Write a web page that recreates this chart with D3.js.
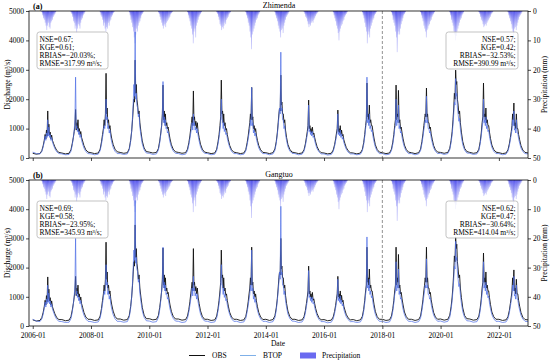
<!DOCTYPE html>
<html><head><meta charset="utf-8">
<script src="https://cdn.jsdelivr.net/npm/d3@7"></script>
<style>body{margin:0;background:#fff}svg{display:block}text{font-family:"Liberation Serif","Times New Roman",serif}</style>
</head><body>
<svg id="c" width="550" height="364"></svg>
<script>
// ---------- DATA ----------
const years = d3.range(2006, 2023);
const dayTpl = ["01-01","02-15","04-01","04-25","05-12","05-25","06-05","06-14","06-22","06-30","07-08","07-15","07-22","07-30","08-08","08-17","08-26","09-05","09-18","10-05","10-28","11-25"];
const dekadTpl = ["04-21","05-01","05-11","05-21","06-01","06-11","06-21","07-01","07-11","07-21","08-01","08-11","08-21","09-01","09-11","09-21","10-01","10-11"];
const xTicks = ["2006-01","2008-01","2010-01","2012-01","2014-01","2016-01","2018-01","2020-01","2022-01"];
const qTicks = [0,1000,2000,3000,4000,5000];
const pTicks = [0,10,20,30,40,50];
const splitDate = "2018-01-01";

const obsA = [
[160,130,150,250,420,600,800,650,950,750,1600,850,1150,780,880,650,780,600,500,380,260,190],
[170,140,160,280,500,700,900,1100,1650,950,1200,1000,1300,900,1000,800,900,700,580,420,280,200],
[180,150,170,300,550,800,1000,1300,1100,1500,2880,1500,1700,1200,1300,1000,1100,850,650,460,300,210],
[190,160,180,320,600,900,1300,1700,2000,1900,3330,2200,2500,2000,1800,1500,1600,1200,900,580,340,220],
[200,170,190,320,580,850,1100,1500,2480,1300,1600,1200,1500,1100,1200,1000,1050,850,650,450,300,210],
[190,160,180,300,520,750,1000,1200,1400,1100,2280,1300,1400,1100,1250,1000,1200,900,700,470,300,200],
[180,150,170,300,550,800,1100,1400,2650,1500,1600,1200,1500,1100,1200,950,1000,800,620,430,280,200],
[180,150,170,290,520,750,1000,1200,1500,1300,2400,1300,1400,1000,1100,900,1000,780,600,420,280,190],
[180,150,180,310,560,850,1200,1500,1700,1600,2820,1800,1900,1500,1500,1200,1300,950,700,460,300,200],
[180,150,170,280,480,700,900,1100,1970,1000,1100,900,1000,850,1050,800,850,700,550,390,260,180],
[170,140,160,270,450,650,850,1000,1630,900,1000,850,1100,800,950,750,800,620,500,360,250,180],
[170,140,170,290,520,800,1100,1300,2550,1400,1500,1300,1800,1200,1300,1100,1100,900,680,450,290,200],
[180,150,170,300,540,800,1100,1300,2480,1300,1500,1400,2300,1200,1300,1000,1050,850,650,440,290,200],
[180,150,180,300,560,820,1100,1300,1500,1400,2380,1400,1500,1200,1200,1000,1050,820,640,430,280,200],
[190,160,190,330,600,900,1300,1700,2200,2000,2990,2500,2600,2000,1800,1500,1600,1200,880,560,330,220],
[190,160,180,300,560,850,1200,1400,2550,1400,1500,1300,1700,1200,1300,1100,1100,880,660,440,290,200],
[180,150,170,280,480,700,900,1100,1500,1300,1870,1100,1200,1000,1500,1000,1000,800,620,420,270,190]];
const obsAEnd = 170;

const btopA = [
[200,150,140,220,380,550,750,600,850,700,1300,750,1050,700,800,600,700,540,440,320,210,150],
[140,110,120,230,450,700,950,1300,2750,1000,1100,900,1000,800,900,700,800,600,480,340,220,150],
[140,110,130,250,480,700,900,1100,1000,1300,2000,1300,1400,1000,1100,850,950,700,530,360,230,150],
[150,120,140,280,560,900,1400,1900,2500,2100,4290,2000,2200,1800,1700,1400,1500,1050,780,480,280,170],
[160,120,140,270,520,800,1100,1400,2600,1200,1400,1100,1300,1000,1050,850,900,720,540,370,240,160],
[150,110,130,240,450,650,850,1000,1200,950,1500,1100,1200,950,1050,850,1000,760,580,380,240,160],
[150,110,130,250,480,700,950,1200,2000,1300,1300,1000,1200,900,1000,800,850,680,520,360,230,150],
[150,110,130,240,450,650,850,1000,1300,1100,2400,1100,1200,850,950,750,850,650,500,340,220,150],
[150,110,140,260,500,800,1100,1400,1700,1500,3600,1600,1700,1300,1300,1000,1100,800,600,380,240,160],
[150,110,130,230,420,620,800,950,1800,900,950,800,900,750,900,700,750,600,460,320,210,140],
[140,100,120,220,400,580,750,880,1500,800,880,750,950,700,820,640,700,530,420,300,200,140],
[140,110,130,240,460,720,1000,1200,2750,1200,1300,1100,1500,1000,1100,900,950,740,560,370,230,150],
[150,110,130,250,470,720,1000,1100,2000,1100,1300,1200,1800,1000,1100,850,900,700,530,360,230,150],
[150,110,140,250,490,720,950,1100,1300,1200,2100,1200,1300,1000,1000,850,900,690,530,350,230,150],
[160,120,150,280,530,800,1150,1500,1900,1800,2700,2100,2200,1700,1500,1250,1350,1000,720,450,270,170],
[160,120,140,250,490,750,1050,1200,2000,1200,1300,1100,1400,1000,1100,900,950,730,550,360,230,150],
[150,110,130,230,420,620,800,950,1300,1100,1600,950,1000,850,1300,850,850,660,510,340,220,150]];
const btopAEnd = 140;

const obsB = [
[210,170,190,290,470,660,880,720,1040,830,1680,940,1260,860,970,720,860,660,550,420,290,220],
[220,180,200,320,550,770,990,1200,1700,1040,1300,1100,1400,990,1100,880,990,770,640,460,310,230],
[230,190,210,340,600,880,1100,1400,1200,1600,2870,1600,1850,1300,1400,1100,1200,930,720,510,330,240],
[240,200,220,360,660,990,1400,1850,2200,2050,3460,2350,2650,2150,1950,1600,1750,1300,990,640,370,250],
[250,210,230,360,640,930,1200,1600,2670,1400,1750,1300,1650,1200,1300,1100,1150,930,720,500,330,240],
[240,200,220,340,570,830,1100,1300,1500,1200,2650,1400,1500,1200,1350,1100,1300,990,770,520,330,230],
[230,190,210,340,600,880,1200,1500,2600,1650,1750,1300,1650,1200,1300,1050,1100,880,680,470,310,230],
[230,190,210,330,570,830,1100,1300,1650,1400,2700,1400,1500,1100,1200,990,1100,860,660,460,310,220],
[230,190,220,350,620,930,1300,1650,1850,1750,3000,1950,2050,1650,1650,1300,1400,1050,770,510,330,230],
[230,190,210,320,530,770,990,1200,2050,1100,1200,990,1100,930,1150,880,930,770,600,430,290,210],
[220,180,200,310,500,710,930,1100,1700,990,1100,930,1200,880,1050,820,880,680,550,400,280,210],
[220,180,210,330,570,880,1200,1400,2700,1500,1650,1400,1950,1300,1400,1200,1200,990,750,500,320,230],
[230,190,210,340,590,880,1200,1400,2700,1400,1650,1500,2450,1300,1400,1100,1150,930,720,480,320,230],
[230,190,220,340,620,900,1200,1400,1650,1500,2700,1500,1650,1300,1300,1100,1150,900,700,470,310,230],
[240,200,230,370,660,990,1400,1850,2400,2200,3050,2650,2800,2200,1950,1650,1750,1300,970,620,360,250],
[240,200,220,340,620,930,1300,1500,2500,1500,1650,1400,1850,1300,1400,1200,1200,970,730,480,320,230],
[230,190,210,320,530,770,990,1200,1650,1400,1920,1200,1300,1100,1600,1100,1100,880,680,460,300,220]];
const obsBEnd = 210;

const btopB = [
[230,170,150,240,410,600,820,650,920,760,1400,810,1130,760,860,650,760,580,480,350,230,160],
[150,120,130,250,490,760,1030,1400,3000,1080,1200,980,1080,870,980,760,870,650,520,370,240,160],
[150,120,140,270,520,760,980,1200,1080,1400,2100,1400,1500,1080,1200,920,1030,760,570,390,250,160],
[160,130,150,300,600,980,1500,2050,2600,2250,4300,2150,2350,1950,1850,1500,1600,1130,840,520,300,180],
[170,130,150,290,560,870,1200,1500,2700,1300,1500,1200,1400,1080,1130,920,980,780,580,400,260,170],
[160,120,140,260,490,700,920,1080,1300,1030,1700,1200,1300,1030,1130,920,1080,820,630,410,260,170],
[160,120,140,270,520,760,1030,1300,2100,1400,1400,1080,1300,980,1080,870,920,730,560,390,250,160],
[160,120,140,260,490,700,920,1080,1400,1200,2600,1200,1300,920,1030,810,920,700,540,370,240,160],
[160,120,150,280,540,870,1200,1500,1850,1600,4100,1750,1850,1400,1400,1080,1200,870,650,410,260,170],
[160,120,140,250,450,670,870,1030,1900,980,1030,870,980,810,980,760,810,650,500,350,230,150],
[150,110,130,240,430,630,810,950,1600,870,950,810,1030,760,890,690,760,570,450,320,220,150],
[150,120,140,260,500,780,1080,1300,3050,1300,1400,1200,1600,1080,1200,970,1030,800,600,400,250,160],
[160,120,140,270,510,780,1080,1200,2200,1200,1400,1300,1950,1080,1200,920,970,760,570,390,250,160],
[160,120,150,270,530,780,1030,1200,1400,1300,2300,1300,1400,1080,1080,920,970,750,570,380,250,160],
[170,130,160,300,570,870,1250,1600,2050,1950,2900,2250,2350,1850,1600,1350,1450,1080,780,490,290,180],
[170,130,150,270,530,810,1130,1300,2200,1300,1400,1200,1500,1080,1200,970,1030,790,590,390,250,160],
[160,120,140,250,450,670,870,1030,1400,1200,1700,1030,1080,920,1400,920,920,710,550,370,240,160]];
const btopBEnd = 150;

const precip = [
[0.5,1.5,2.5,3,4,5,6.5,5,4,5.5,6,4,3.5,3,2,1.5,1,0.5],
[0.5,1,2,3.5,4,6,5,7.5,6,4.5,5,6,4,3,2.5,1.5,1,0.5],
[0.5,1.5,2,3,5,4,6,7,5.5,6,4,5,3.5,3,2,1.5,0.8,0.4],
[0.5,1.5,3,4,5.5,7,9,11,8,6,7,5,4,3.5,2.5,1.5,1,0.5],
[0.5,1,2,3,4,5,6,5,4.5,5.5,4,3.5,3,2.5,2,1.2,0.8,0.4],
[0.5,1.5,2.5,3.5,5,6,8,11,7,6,9,5,4,3,2,1.5,1,0.5],
[0.5,1,2,3,4.5,5,6.5,5.5,6,5,4,4.5,3,2.5,2,1.2,0.8,0.4],
[0.5,1.5,2.5,4,5,7,9,13,8,7,6,5,4,3,2.5,1.5,1,0.5],
[0.5,1.5,2.5,3.5,5,6,7,9,6.5,6,7.5,5,4,3,2,1.5,1,0.5],
[0.4,1,2,2.5,3.5,4.5,5.5,4.5,5,4,3.5,4,3,2.5,1.8,1.2,0.8,0.4],
[0.5,1.5,2.5,3.5,5,6,7.5,10,7,6,5,4.5,3.5,3,2,1.5,1,0.5],
[0.5,1.5,2.5,4,5.5,7,11,8,7,9,6,5,4,3,2.5,1.5,1,0.5],
[0.5,1.5,3,4,5,7,9,14,8,7,8,6,4.5,3.5,2.5,1.5,1,0.5],
[0.5,1.5,2.5,3.5,5,6,7,9,6.5,6,5,4.5,3.5,3,2,1.5,1,0.5],
[0.5,1.5,3,4,5,7,8,10,8.5,7,6,5,4,3,2.5,1.5,1,0.5],
[0.4,1,2,3,3.5,4.5,5.5,5,4.5,5,4,3.5,3,2.5,2,1.2,0.8,0.4],
[0.5,1.5,2.5,3.5,4.5,6,7,9,6,5.5,6.5,5,4,3,2,1.5,1,0.5]];

const statsA = {left:["NSE=0.67;","KGE=0.61;","RBIAS=\u221220.03%;","RMSE=317.99 m\u00b3/s;"],
               right:["NSE=0.57;","KGE=0.42;","RBIAS=\u221232.53%;","RMSE=390.99 m\u00b3/s;"]};
const statsB = {left:["NSE=0.69;","KGE=0.58;","RBIAS=\u221223.95%;","RMSE=345.93 m\u00b3/s;"],
               right:["NSE=0.62;","KGE=0.47;","RBIAS=\u221230.64%;","RMSE=414.04 m\u00b3/s;"]};

// ---------- BUILD ----------
const parse = d3.utcParse("%Y-%m-%d");
const parseM = d3.utcParse("%Y-%m");
function series(arr, endVal){
  const out = [];
  years.forEach((y,i)=> dayTpl.forEach((t,j)=> out.push({d:parse(`${y}-${t}`), v:arr[i][j]})));
  out.push({d:parse("2023-01-01"), v:endVal});
  return out;
}
const pSeries = [];
years.forEach((y,i)=> dekadTpl.forEach((t,j)=> pSeries.push({d:parse(`${y}-${t}`), v:precip[i][j]})));

const svg = d3.select("#c");
const L = 29, R = 528;
const x = d3.scaleUtc().domain([parse("2005-11-15"), parse("2023-01-01")]).range([L, R]);
const COL_OBS = "#111", COL_BTOP = "#4f6fe6";

const defs = svg.append("defs");
const grad = defs.append("linearGradient").attr("id","pg").attr("x1",0).attr("x2",0).attr("y1",0).attr("y2",1);
grad.append("stop").attr("offset","0%").attr("stop-color","#2a2ae8").attr("stop-opacity",0.95);
grad.append("stop").attr("offset","100%").attr("stop-color","#8a8cf5").attr("stop-opacity",0.45);

function panel(top, bottom, obs, btop, stats, title, label, showX, id){
  const yq = d3.scaleLinear().domain([0,5000]).range([bottom, top]);
  const yp = d3.scaleLinear().domain([0,50]).range([top, bottom]);
  const g = svg.append("g");
  defs.append("clipPath").attr("id","cl"+id).append("rect")
    .attr("x",L).attr("y",top).attr("width",R-L).attr("height",bottom-top);
  const pg = g.append("g").attr("clip-path",`url(#cl${id})`);

  pg.selectAll("rect.p").data(pSeries).join("rect")
    .attr("x", d=>x(d.d))
    .attr("width", d=>Math.max(0.6, x(d3.utcDay.offset(d.d,10))-x(d.d)))
    .attr("y", yp(0))
    .attr("height", d=>yp(d.v)-yp(0))
    .attr("fill","url(#pg)");

  const line = d3.line().x(d=>x(d.d)).y(d=>yq(d.v));
  pg.append("path").datum(obs).attr("d",line).attr("fill","none").attr("stroke",COL_OBS).attr("stroke-width",0.9);
  pg.append("path").datum(btop).attr("d",line).attr("fill","none").attr("stroke",COL_BTOP).attr("stroke-width",0.8).attr("stroke-opacity",0.9);

  g.append("line").attr("x1",x(parse(splitDate))).attr("x2",x(parse(splitDate)))
    .attr("y1",top).attr("y2",bottom).attr("stroke","#777").attr("stroke-width",0.8).attr("stroke-dasharray","3,2");

  g.append("rect").attr("x",L).attr("y",top).attr("width",R-L).attr("height",bottom-top)
    .attr("fill","none").attr("stroke","#000").attr("stroke-width",0.8);

  const fs = "7.5px";
  const ax = g.append("g").attr("transform",`translate(0,${bottom})`)
    .call(d3.axisBottom(x).tickValues(xTicks.map(parseM)).tickSize(3).tickPadding(3.5)
      .tickFormat(showX ? d3.utcFormat("%Y-%m") : ()=>""));
  const al = g.append("g").attr("transform",`translate(${L},0)`)
    .call(d3.axisLeft(yq).tickValues(qTicks).tickSize(3).tickPadding(2).tickFormat(d3.format("d")));
  const ar = g.append("g").attr("transform",`translate(${R},0)`)
    .call(d3.axisRight(yp).tickValues(pTicks).tickSize(3).tickPadding(2));
  [ax,al,ar].forEach(a=>{
    a.select(".domain").remove();
    a.selectAll("line").attr("stroke","#000").attr("stroke-width",0.7);
    a.selectAll("text").attr("font-family","Liberation Serif").attr("font-size",fs).attr("fill","#000");
  });
  al.selectAll("text").attr("dy","0.3em");

  const mid = (top+bottom)/2;
  g.append("text").attr("transform",`translate(10,${mid}) rotate(-90)`).attr("text-anchor","middle")
    .attr("font-size","7.5px").text("Discharge (m\u00b3/s)");
  g.append("text").attr("transform",`translate(547,${mid}) rotate(-90)`).attr("text-anchor","middle")
    .attr("font-size","7.5px").text("Precipitation (mm)");
  g.append("text").attr("x",279).attr("y",top-3).attr("text-anchor","middle").attr("font-size","8px").text(title);
  g.append("text").attr("x",33).attr("y",top-2.5).attr("font-size","8px").attr("font-weight","bold").text(label);

  const lh = 8.3;
  const bl = g.append("g");
  bl.append("rect").attr("x",37).attr("y",top+21).attr("width",71).attr("height",37).attr("rx",2.5)
    .attr("fill","#fff").attr("fill-opacity",0.8).attr("stroke","#aaa").attr("stroke-width",0.7);
  stats.left.forEach((s,i)=> bl.append("text").attr("x",39.5).attr("y",top+30.5+i*lh).attr("font-size","7.5px").text(s));
  const br = g.append("g");
  br.append("rect").attr("x",446).attr("y",top+21).attr("width",72).attr("height",37).attr("rx",2.5)
    .attr("fill","#fff").attr("fill-opacity",0.8).attr("stroke","#aaa").attr("stroke-width",0.7);
  stats.right.forEach((s,i)=> br.append("text").attr("x",515.5).attr("y",top+30.5+i*lh).attr("text-anchor","end").attr("font-size","7.5px").text(s));
}

panel(11, 158, series(obsA,obsAEnd), series(btopA,btopAEnd), statsA, "Zhimenda", "(a)", false, "a");
panel(180, 326, series(obsB,obsBEnd), series(btopB,btopBEnd), statsB, "Gangtuo", "(b)", true, "b");

svg.append("text").attr("x",278).attr("y",345.5).attr("text-anchor","middle").attr("font-size","7.5px").text("Date");

const lg = svg.append("g").attr("font-size","7.5px");
lg.append("line").attr("x1",189).attr("x2",205).attr("y1",355.5).attr("y2",355.5).attr("stroke",COL_OBS).attr("stroke-width",1);
lg.append("text").attr("x",212).attr("y",358).text("OBS");
lg.append("line").attr("x1",240).attr("x2",256).attr("y1",355.5).attr("y2",355.5).attr("stroke","#7fb0e8").attr("stroke-width",1);
lg.append("text").attr("x",263).attr("y",358).text("BTOP");
lg.append("rect").attr("x",300).attr("y",352.5).attr("width",16).attr("height",6).attr("fill","#6a6af0");
lg.append("text").attr("x",322).attr("y",358).text("Precipitation");
</script>
</body></html>
